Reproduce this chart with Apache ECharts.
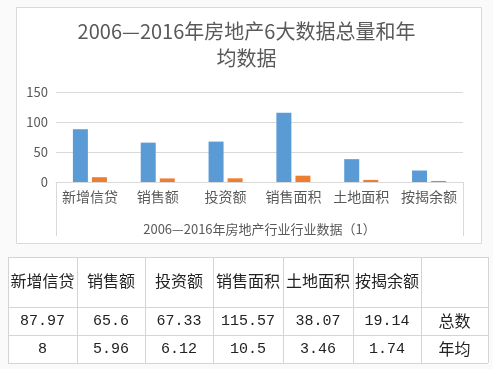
<!DOCTYPE html>
<html><head><meta charset="utf-8">
<script src="https://cdn.jsdelivr.net/npm/echarts@6/dist/echarts.min.js"></script>
<style>html,body{margin:0;padding:0;background:#fafafa;}#c{width:493px;height:369px;}</style>
</head><body><div id="c"></div>
<script>
var categories = ['新增信贷','销售额','投资额','销售面积','土地面积','按揭余额'];
var totals = [87.97, 65.6, 67.33, 115.57, 38.07, 19.14];
var averages = [8, 5.96, 6.12, 10.5, 3.46, 1.74];
var totalLabels = ['87.97','65.6','67.33','115.57','38.07','19.14'];
var averageLabels = ['8','5.96','6.12','10.5','3.46','1.74'];
var rowNames = ['总数','年均'];
var titleText = '2006—2016年房地产6大数据总量和年\n均数据';
var groupLabel = '2006—2016年房地产行业行业数据（1）';
var yTicks = [0, 50, 100, 150];

var chart = echarts.init(document.getElementById('c'), null, {renderer:'canvas'});
var CJK = '"Noto Sans CJK SC", "Microsoft YaHei", sans-serif';
var colX = [8,77,145,213,283,353,421,488];
var rowY = [257,307,335,363];
var g = [];
g.push({type:'rect', z:-10, shape:{x:16.5,y:7.5,width:465,height:236}, style:{fill:'#fff', stroke:'#d9d9d9', lineWidth:1}});
g.push({type:'rect', z:-10, shape:{x:colX[0],y:rowY[0],width:colX[7]-colX[0],height:rowY[3]-rowY[0]}, style:{fill:'#fff'}});
g.push({type:'line', shape:{x1:56.5,y1:182,x2:56.5,y2:236}, style:{stroke:'#d9d9d9',lineWidth:1}});
g.push({type:'line', shape:{x1:463.5,y1:182,x2:463.5,y2:236}, style:{stroke:'#d9d9d9',lineWidth:1}});
for (var i=0;i<colX.length;i++) g.push({type:'line', shape:{x1:colX[i]+0.5,y1:rowY[0],x2:colX[i]+0.5,y2:rowY[3]}, style:{stroke:'#d4d4d4',lineWidth:1}});
for (var j=0;j<rowY.length;j++) g.push({type:'line', shape:{x1:colX[0],y1:rowY[j]+0.5,x2:colX[7],y2:rowY[j]+0.5}, style:{stroke:'#d4d4d4',lineWidth:1}});
function cellText(col,row,txt,mono){
  var cx=(colX[col]+colX[col+1])/2, cy=(rowY[row]+rowY[row+1])/2 + (row===0?-1:0);
  g.push({type:'text', x:cx, y:cy, style:{text:txt, align:'center', verticalAlign:'middle', fill:'#222',
    font: mono ? '15px "Liberation Mono", monospace' : '16px '+CJK}});
}
for (var k=0;k<categories.length;k++){
  cellText(k,0,categories[k],false);
  cellText(k,1,totalLabels[k],true);
  cellText(k,2,averageLabels[k],true);
}
cellText(6,1,rowNames[0],false);
cellText(6,2,rowNames[1],false);

chart.setOption({
  backgroundColor:'transparent',
  animation:false,
  title:{text:titleText, left:'center', top:13, textStyle:{fontFamily:CJK, fontSize:20, fontWeight:'normal', color:'#595959', lineHeight:27}},
  grid:{left:56, right:30, top:92, bottom:187},
  xAxis:{type:'category', data:categories,
    axisLine:{lineStyle:{color:'#d9d9d9'}}, axisTick:{show:false},
    axisLabel:{color:'#595959', fontSize:14, fontFamily:CJK, margin:8, interval:0},
    name:groupLabel, nameLocation:'middle', nameGap:41,
    nameTextStyle:{color:'#595959', fontSize:13, fontFamily:CJK}},
  yAxis:{type:'value', min:yTicks[0], max:yTicks[yTicks.length-1], interval:50,
    axisLine:{show:false}, axisTick:{show:false},
    splitLine:{lineStyle:{color:'#d9d9d9'}},
    axisLabel:{color:'#595959', fontSize:13, fontFamily:CJK, margin:8}},
  series:[
    {type:'bar', name:'总数', data:totals, barWidth:15, barGap:'27%', itemStyle:{color:'#5B9BD5'}},
    {type:'bar', name:'年均', data:averages, barWidth:15, itemStyle:{color:'#ED7D31'}}
  ],
  graphic:g
});
</script></body></html>
